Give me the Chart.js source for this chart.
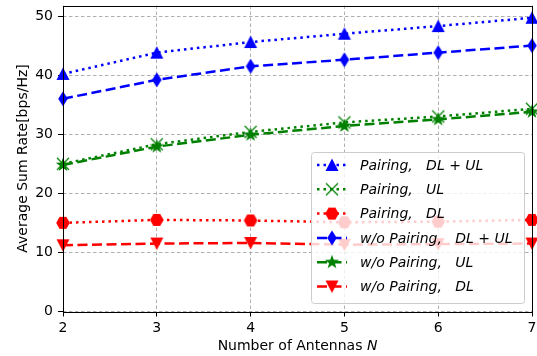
<!DOCTYPE html>
<html>
<head>
<meta charset="utf-8">
<script src="https://cdn.jsdelivr.net/npm/chart.js@4.4.1/dist/chart.umd.min.js"></script>
<style>
  html, body { margin: 0; padding: 0; background: #fff; }
  #wrap { width: 537px; height: 356px; }
</style>
</head>
<body>
<div id="wrap"><canvas id="myChart" width="537" height="356"></canvas></div>
<script>
// antenna counts on the x axis
const antennas = [2, 3, 4, 5, 6, 7];

// average sum rate [bps/Hz]
const pairingDLUL = [40.2, 43.8, 45.6, 47.0, 48.3, 49.7];
const pairingUL = [25.0, 28.3, 30.4, 32.0, 33.0, 34.3];
const pairingDL = [15.0, 15.5, 15.4, 15.1, 15.2, 15.5];
const woDLUL = [36.0, 39.2, 41.5, 42.6, 43.8, 45.0];
const woUL = [24.8, 27.9, 29.9, 31.4, 32.5, 33.8];
const woDL = [11.2, 11.5, 11.6, 11.3, 11.4, 11.5];

const yTicks = [0, 10, 20, 30, 40, 50];

const BLUE = '#0000ff';
const GREEN = '#008000';
const RED = '#ff0000';
const FONT = '"DejaVu Sans", sans-serif';

// marker images, roughly like matplotlib ^ x H d * v
function makeMarker(shape, color) {
    const c = document.createElement('canvas');
    c.width = 18; c.height = 18;
    const g = c.getContext('2d');
    const cx = 9, cy = 9;
    g.fillStyle = color;
    g.strokeStyle = color;
    g.beginPath();
    if (shape === 'up') {
        g.moveTo(cx, cy - 6.5); g.lineTo(cx + 6.5, cy + 6); g.lineTo(cx - 6.5, cy + 6);
    } else if (shape === 'down') {
        g.moveTo(cx, cy + 6.5); g.lineTo(cx + 6.5, cy - 6); g.lineTo(cx - 6.5, cy - 6);
    } else if (shape === 'hex') {
        for (let i = 0; i < 6; i++) {
            const a = i * Math.PI / 3;
            g.lineTo(cx + 6.8 * Math.cos(a), cy + 6.8 * Math.sin(a));
        }
    } else if (shape === 'diamond') {
        g.moveTo(cx, cy - 7.5); g.lineTo(cx + 4.8, cy); g.lineTo(cx, cy + 7.5); g.lineTo(cx - 4.8, cy);
    } else if (shape === 'star') {
        for (let i = 0; i < 10; i++) {
            const a = -Math.PI / 2 + i * Math.PI / 5;
            const r = i % 2 === 0 ? 7.5 : 3.0;
            g.lineTo(cx + r * Math.cos(a), cy + r * Math.sin(a));
        }
    } else if (shape === 'x') {
        g.lineWidth = 1.3;
        g.moveTo(cx - 6, cy - 6); g.lineTo(cx + 6, cy + 6);
        g.moveTo(cx + 6, cy - 6); g.lineTo(cx - 6, cy + 6);
        g.stroke();
        return c;
    }
    g.closePath();
    g.fill();
    return c;
}

const DOTTED = [2.5, 4];
const DASHED = [10, 4.5];

function series(label, data, color, dash, shape) {
    return {
        label: label,
        data: data,
        borderColor: color,
        backgroundColor: color,
        borderWidth: 2.5,
        borderDash: dash,
        pointStyle: makeMarker(shape, color),
        pointRadius: 7,
        tension: 0,
        clip: false
    };
}

const datasets = [
    series('Pairing,   DL + UL', pairingDLUL, BLUE, DOTTED, 'up'),
    series('Pairing,   UL', pairingUL, GREEN, DOTTED, 'x'),
    series('Pairing,   DL', pairingDL, RED, DOTTED, 'hex'),
    series('w/o Pairing,   DL + UL', woDLUL, BLUE, DASHED, 'diamond'),
    series('w/o Pairing,   UL', woUL, GREEN, DASHED, 'star'),
    series('w/o Pairing,   DL', woDL, RED, DASHED, 'down')
];

// frame, axis titles and a matplotlib style legend
const framePlugin = {
    id: 'frame',
    afterDatasetsDraw(chart) {
        const ctx = chart.ctx;
        const a = chart.chartArea;

        // legend box
        const bx = 311, by = 152, bw = 213, bh = 151;
        ctx.save();
        ctx.beginPath();
        ctx.roundRect(bx + 0.5, by + 0.5, bw, bh, 3);
        ctx.fillStyle = 'rgba(255,255,255,0.8)';
        ctx.fill();
        ctx.strokeStyle = '#cccccc';
        ctx.lineWidth = 1;
        ctx.stroke();

        ctx.font = 'italic 14px ' + FONT;
        ctx.textBaseline = 'middle';
        chart.data.datasets.forEach((ds, i) => {
            const y = 165 + i * 24.3;
            ctx.beginPath();
            ctx.setLineDash(ds.borderDash);
            ctx.strokeStyle = ds.borderColor;
            ctx.lineWidth = ds.borderWidth;
            ctx.moveTo(317, y);
            ctx.lineTo(347, y);
            ctx.stroke();
            ctx.setLineDash([]);
            ctx.drawImage(ds.pointStyle, 332 - 9, y - 9);
            ctx.fillStyle = '#000';
            ctx.fillText(ds.label, 360, y + 1);
        });

        // axes frame
        ctx.strokeStyle = '#000';
        ctx.lineWidth = 1;
        ctx.strokeRect(Math.round(a.left) + 0.5, Math.round(a.top) + 0.5,
            Math.round(a.right - a.left), Math.round(a.bottom - a.top));

        // x title with italic N
        ctx.fillStyle = '#000';
        ctx.textBaseline = 'alphabetic';
        ctx.textAlign = 'left';
        const t1 = 'Number of Antennas ';
        ctx.font = '14px ' + FONT;
        const w1 = ctx.measureText(t1).width;
        ctx.font = 'italic 14px ' + FONT;
        const w2 = ctx.measureText('N').width;
        const x0 = (a.left + a.right) / 2 - (w1 + w2) / 2;
        ctx.font = '14px ' + FONT;
        ctx.fillText(t1, x0, 350);
        ctx.font = 'italic 14px ' + FONT;
        ctx.fillText('N', x0 + w1, 350);

        // y title
        ctx.translate(27, (a.top + a.bottom) / 2);
        ctx.rotate(-Math.PI / 2);
        ctx.font = '14px ' + FONT;
        ctx.textAlign = 'center';
        ctx.fillText('Average Sum Rate[bps/Hz]', 0, 0);
        ctx.restore();
    }
};

const gridOpts = {
    color: '#b0b0b0',
    lineWidth: 1,
    borderDash: [3.5, 2.5],
    tickLength: 5,
    tickColor: '#000',
    tickBorderDash: []
};

new Chart(document.getElementById('myChart'), {
    type: 'line',
    data: { labels: antennas, datasets: datasets },
    plugins: [framePlugin],
    options: {
        responsive: false,
        animation: false,
        layout: { autoPadding: false, padding: { top: 5.5, right: 5, left: 0, bottom: 0 } },
        plugins: {
            legend: { display: false },
            tooltip: { enabled: false }
        },
        scales: {
            x: {
                type: 'linear',
                min: 2,
                max: 7,
                ticks: {
                    stepSize: 1,
                    color: '#000',
                    font: { family: FONT, size: 14 },
                    padding: 3,
                    maxRotation: 0
                },
                grid: gridOpts,
                border: { display: false, dash: [3.5, 2.5] },
                afterFit(scale) {
                    scale.height = 44.5;
                    scale.paddingLeft = 0;
                    scale.paddingRight = 0;
                }
            },
            y: {
                min: 0,
                max: 51.78,
                afterBuildTicks(scale) {
                    scale.ticks = yTicks.map(v => ({ value: v }));
                },
                ticks: {
                    color: '#000',
                    font: { family: FONT, size: 14 },
                    padding: 5
                },
                grid: gridOpts,
                border: { display: false, dash: [3.5, 2.5] },
                afterFit(scale) {
                    scale.width = 63;
                    scale.paddingTop = 0;
                    scale.paddingBottom = 0;
                }
            }
        }
    }
});
</script>
</body>
</html>
